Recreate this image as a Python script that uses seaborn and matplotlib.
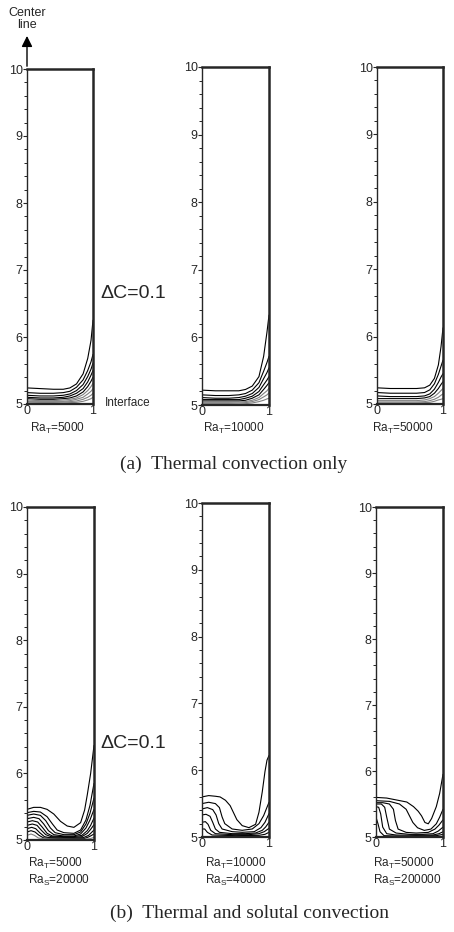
import pandas as pd
import seaborn as sns
import matplotlib.pyplot as plt
from matplotlib.ticker import MultipleLocator

# contour lines, one (x, y) pair of lists per line
# (a) thermal convection only
X_TOP = [0, 0.2, 0.4, 0.55, 0.65, 0.75, 0.85, 0.92, 0.97, 1.0]
X_TOP3 = [0, 0.2, 0.4, 0.6, 0.72, 0.8, 0.87, 0.93, 0.97, 1.0]

TOP_5000 = [
    [5.24, 5.23, 5.22, 5.22, 5.24, 5.3, 5.45, 5.68, 5.95, 6.25],
    [5.17, 5.16, 5.16, 5.17, 5.19, 5.25, 5.36, 5.5, 5.63, 5.74],
    [5.13, 5.12, 5.12, 5.13, 5.15, 5.2, 5.29, 5.41, 5.52, 5.61],
    [5.1, 5.09, 5.09, 5.1, 5.12, 5.16, 5.23, 5.33, 5.43, 5.5],
    [5.08, 5.07, 5.07, 5.08, 5.09, 5.12, 5.18, 5.26, 5.34, 5.4],
    [5.06, 5.05, 5.05, 5.06, 5.07, 5.09, 5.14, 5.2, 5.26, 5.31],
    [5.04, 5.04, 5.04, 5.04, 5.05, 5.07, 5.1, 5.15, 5.19, 5.23],
    [5.03, 5.025, 5.025, 5.03, 5.035, 5.045, 5.07, 5.1, 5.13, 5.16],
    [5.015, 5.015, 5.015, 5.015, 5.02, 5.025, 5.04, 5.06, 5.08, 5.1],
]
TOP_10000 = [
    [5.22, 5.21, 5.21, 5.21, 5.23, 5.28, 5.42, 5.72, 6.08, 6.33],
    [5.15, 5.14, 5.14, 5.15, 5.17, 5.22, 5.33, 5.5, 5.63, 5.72],
    [5.11, 5.1, 5.1, 5.11, 5.13, 5.17, 5.26, 5.39, 5.48, 5.55],
    [5.08, 5.08, 5.08, 5.08, 5.1, 5.13, 5.2, 5.3, 5.37, 5.42],
    [5.06, 5.06, 5.06, 5.06, 5.07, 5.1, 5.15, 5.23, 5.29, 5.33],
    [5.04, 5.04, 5.04, 5.045, 5.05, 5.07, 5.11, 5.17, 5.21, 5.25],
    [5.025, 5.025, 5.025, 5.03, 5.035, 5.05, 5.08, 5.12, 5.15, 5.18],
    [5.015, 5.015, 5.015, 5.015, 5.02, 5.03, 5.05, 5.07, 5.09, 5.1],
]
TOP_50000 = [
    [5.24, 5.23, 5.23, 5.23, 5.24, 5.28, 5.38, 5.58, 5.85, 6.13],
    [5.17, 5.16, 5.16, 5.16, 5.17, 5.21, 5.3, 5.44, 5.56, 5.65],
    [5.12, 5.11, 5.11, 5.11, 5.12, 5.15, 5.22, 5.32, 5.4, 5.45],
    [5.08, 5.08, 5.08, 5.08, 5.09, 5.11, 5.16, 5.23, 5.29, 5.33],
    [5.05, 5.05, 5.05, 5.05, 5.06, 5.08, 5.11, 5.16, 5.2, 5.23],
    [5.03, 5.03, 5.03, 5.03, 5.035, 5.05, 5.07, 5.1, 5.13, 5.15],
    [5.015, 5.015, 5.015, 5.015, 5.02, 5.025, 5.04, 5.06, 5.07, 5.08],
]

# (b) thermal and solutal convection
BOT_5000 = [
    ([0, 0.1, 0.2, 0.3, 0.4, 0.5, 0.6, 0.7, 0.8, 0.86, 0.9, 0.95, 1.0],
     [5.46, 5.49, 5.49, 5.46, 5.39, 5.28, 5.21, 5.19, 5.26, 5.45, 5.68, 6.0, 6.42]),
    ([0, 0.1, 0.2, 0.3, 0.38, 0.45, 0.55, 0.7, 0.8, 0.88, 0.94, 1.0],
     [5.41, 5.43, 5.42, 5.35, 5.24, 5.15, 5.11, 5.1, 5.15, 5.3, 5.52, 5.85]),
    ([0, 0.1, 0.2, 0.28, 0.35, 0.42, 0.55, 0.7, 0.8, 0.88, 0.94, 1.0],
     [5.37, 5.39, 5.37, 5.29, 5.18, 5.11, 5.08, 5.08, 5.12, 5.24, 5.4, 5.63]),
    ([0, 0.1, 0.18, 0.25, 0.32, 0.4, 0.55, 0.7, 0.8, 0.88, 0.94, 1.0],
     [5.32, 5.34, 5.32, 5.24, 5.14, 5.08, 5.06, 5.06, 5.09, 5.18, 5.3, 5.46]),
    ([0, 0.08, 0.16, 0.23, 0.3, 0.38, 0.55, 0.7, 0.82, 0.9, 0.95, 1.0],
     [5.27, 5.29, 5.27, 5.19, 5.1, 5.06, 5.05, 5.05, 5.07, 5.14, 5.22, 5.33]),
    ([0, 0.08, 0.15, 0.21, 0.28, 0.36, 0.55, 0.7, 0.82, 0.9, 0.95, 1.0],
     [5.22, 5.24, 5.22, 5.15, 5.08, 5.05, 5.04, 5.04, 5.05, 5.1, 5.16, 5.23]),
    ([0, 0.07, 0.13, 0.19, 0.26, 0.34, 0.55, 0.7, 0.84, 0.92, 0.96, 1.0],
     [5.17, 5.19, 5.17, 5.11, 5.05, 5.035, 5.03, 5.03, 5.035, 5.07, 5.11, 5.15]),
    ([0, 0.06, 0.12, 0.18, 0.25, 0.55, 0.85, 0.93, 1.0],
     [5.12, 5.14, 5.12, 5.07, 5.03, 5.02, 5.02, 5.05, 5.09]),
    ([0, 0.06, 0.11, 0.17, 0.3, 0.85, 0.94, 1.0],
     [5.07, 5.09, 5.07, 5.03, 5.015, 5.01, 5.02, 5.04]),
]
BOT_10000 = [
    ([0, 0.1, 0.2, 0.27, 0.35, 0.42, 0.52, 0.6, 0.7, 0.8, 0.85, 0.9, 0.94, 0.97, 1.0],
     [5.6, 5.62, 5.61, 5.6, 5.55, 5.47, 5.26, 5.17, 5.14, 5.19, 5.37, 5.68, 5.98, 6.15, 6.22]),
    ([0, 0.1, 0.2, 0.26, 0.3, 0.34, 0.45, 0.6, 0.75, 0.85, 0.92, 1.0],
     [5.5, 5.52, 5.5, 5.44, 5.3, 5.2, 5.12, 5.1, 5.12, 5.2, 5.32, 5.52]),
    ([0, 0.08, 0.16, 0.21, 0.25, 0.3, 0.45, 0.6, 0.78, 0.88, 0.94, 1.0],
     [5.42, 5.44, 5.41, 5.33, 5.2, 5.12, 5.08, 5.07, 5.08, 5.14, 5.22, 5.35]),
    ([0, 0.06, 0.12, 0.16, 0.2, 0.26, 0.45, 0.65, 0.8, 0.9, 0.95, 1.0],
     [5.33, 5.34, 5.31, 5.22, 5.12, 5.07, 5.05, 5.05, 5.06, 5.1, 5.15, 5.22]),
    ([0, 0.05, 0.09, 0.13, 0.2, 0.45, 0.7, 0.85, 0.93, 1.0],
     [5.22, 5.23, 5.19, 5.1, 5.05, 5.035, 5.035, 5.05, 5.08, 5.13]),
    ([0, 0.04, 0.08, 0.15, 0.5, 0.85, 0.94, 1.0],
     [5.12, 5.12, 5.07, 5.03, 5.02, 5.025, 5.04, 5.07]),
]
BOT_50000 = [
    ([0, 0.16, 0.36, 0.46, 0.56, 0.63, 0.68, 0.73, 0.78, 0.83, 0.9, 0.95, 1.0],
     [5.6, 5.59, 5.55, 5.53, 5.46, 5.39, 5.32, 5.22, 5.2, 5.28, 5.46, 5.66, 5.95]),
    ([0, 0.2, 0.35, 0.45, 0.5, 0.55, 0.62, 0.72, 0.82, 0.9, 0.95, 1.0],
     [5.55, 5.54, 5.5, 5.42, 5.32, 5.22, 5.14, 5.1, 5.12, 5.2, 5.3, 5.42]),
    ([0, 0.1, 0.2, 0.26, 0.29, 0.33, 0.45, 0.6, 0.78, 0.88, 0.94, 1.0],
     [5.52, 5.52, 5.5, 5.42, 5.25, 5.12, 5.07, 5.06, 5.07, 5.12, 5.18, 5.26]),
    ([0, 0.08, 0.13, 0.16, 0.2, 0.3, 0.5, 0.7, 0.85, 0.93, 1.0],
     [5.5, 5.5, 5.45, 5.3, 5.12, 5.06, 5.04, 5.04, 5.05, 5.09, 5.15]),
    ([0, 0.04, 0.07, 0.1, 0.16, 0.3, 0.6, 0.85, 0.94, 1.0],
     [5.46, 5.45, 5.35, 5.15, 5.05, 5.03, 5.025, 5.03, 5.05, 5.08]),
    ([0, 0.03, 0.06, 0.12, 0.5, 0.9, 1.0],
     [5.3, 5.2, 5.08, 5.02, 5.01, 5.02, 5.04]),
]

TOP_LABELS = ['Ra$_\\mathregular{T}$=5000', 'Ra$_\\mathregular{T}$=10000', 'Ra$_\\mathregular{T}$=50000']
BOT_LABELS = ['Ra$_\\mathregular{T}$=5000\nRa$_\\mathregular{S}$=20000',
              'Ra$_\\mathregular{T}$=10000\nRa$_\\mathregular{S}$=40000',
              'Ra$_\\mathregular{T}$=50000\nRa$_\\mathregular{S}$=200000']
Y_TICKS = [5, 6, 7, 8, 9, 10]


def to_frame(panel, lines, xs=None, grey_from=99):
    # lines close to the interface come out grey in the scan
    rows = []
    for i, line in enumerate(lines):
        lx, ly = (xs, line) if xs is not None else line
        shade = 'grey' if i >= grey_from else 'black'
        for x, y in zip(lx, ly):
            rows.append({'panel': panel, 'line': i, 'shade': shade, 'x': x, 'y': y})
    return rows


rows = []
rows += to_frame(0, TOP_5000, X_TOP, grey_from=5)
rows += to_frame(1, TOP_10000, X_TOP, grey_from=5)
rows += to_frame(2, TOP_50000, X_TOP3, grey_from=4)
rows += to_frame(3, BOT_5000, grey_from=8)
rows += to_frame(4, BOT_10000)
rows += to_frame(5, BOT_50000)
df = pd.DataFrame(rows)

sns.set_style('ticks')
plt.rcParams['font.family'] = ['Liberation Sans', 'DejaVu Sans']
plt.rcParams['mathtext.fontset'] = 'custom'
plt.rcParams['mathtext.rm'] = 'Liberation Sans'

W, H = 454, 932
fig = plt.figure(figsize=(W / 100, H / 100), dpi=100)


def box(x0, x1, y0, y1):
    # pixel box -> figure fraction
    return [x0 / W, 1 - y1 / H, (x1 - x0) / W, (y1 - y0) / H]


boxes = [
    box(27, 93, 69, 404), box(202, 269, 67, 405), box(377, 443, 67, 404),
    box(27, 94, 507, 840), box(202, 269, 503, 837), box(376, 443, 507, 837),
]

axes = []
for p, b in enumerate(boxes):
    ax = fig.add_axes(b)
    sub = df[df['panel'] == p]
    sns.lineplot(data=sub, x='x', y='y', units='line', estimator=None, sort=False,
                 hue='shade', palette={'black': 'black', 'grey': '#808080'},
                 lw=0.8, legend=False, ax=ax)
    ax.set_xlim(0, 1)
    ax.set_ylim(5, 10)
    ax.set_xlabel('')
    ax.set_ylabel('')
    ax.set_yticks(Y_TICKS)
    ax.set_yticklabels([str(t) for t in Y_TICKS])
    ax.yaxis.set_minor_locator(MultipleLocator(0.2))
    ax.set_xticks([0, 1])
    ax.set_xticklabels(['0', '1'])
    ax.tick_params(axis='y', which='major', direction='out', length=3, width=0.8, pad=0, labelsize=9)
    ax.tick_params(axis='y', which='minor', direction='out', length=2, width=0.7)
    ax.tick_params(axis='x', length=0, pad=1, labelsize=9)
    ax.spines['left'].set_linewidth(1.0)
    ax.spines['right'].set_linewidth(1.8)
    ax.spines['top'].set_linewidth(1.8)
    ax.spines['bottom'].set_linewidth(1.6)
    axes.append(ax)


def ftext(x, y, s, **kw):
    fig.text(x / W, 1 - y / H, s, **kw)


# centre line arrow above first panel
axes[0].annotate('', xy=(0, 1.107), xycoords='axes fraction', xytext=(0, 1.0),
                 arrowprops=dict(arrowstyle='-|>', color='black', lw=1.0, mutation_scale=16))
ftext(27, 19, 'Center\nline', ha='center', va='center', fontsize=9, linespacing=1.1)

ftext(100, 293, '\u0394C=0.1', ha='left', va='center', fontsize=14)
ftext(100, 744, '\u0394C=0.1', ha='left', va='center', fontsize=14)
ftext(105, 403, 'Interface', ha='left', va='center', fontsize=8.5)

for x, s in zip([30, 203, 372], TOP_LABELS):
    ftext(x, 428, s, ha='left', va='center', fontsize=8.5)
for x, s in zip([28, 205, 373], BOT_LABELS):
    ftext(x, 872, s, ha='left', va='center', fontsize=8.5, linespacing=1.15)

ftext(234, 464, '(a)  Thermal convection only', ha='center', va='center',
      fontsize=14, family='Liberation Serif')
ftext(250, 913, '(b)  Thermal and solutal convection', ha='center', va='center',
      fontsize=14, family='Liberation Serif')

plt.savefig('out.png', dpi=100)
